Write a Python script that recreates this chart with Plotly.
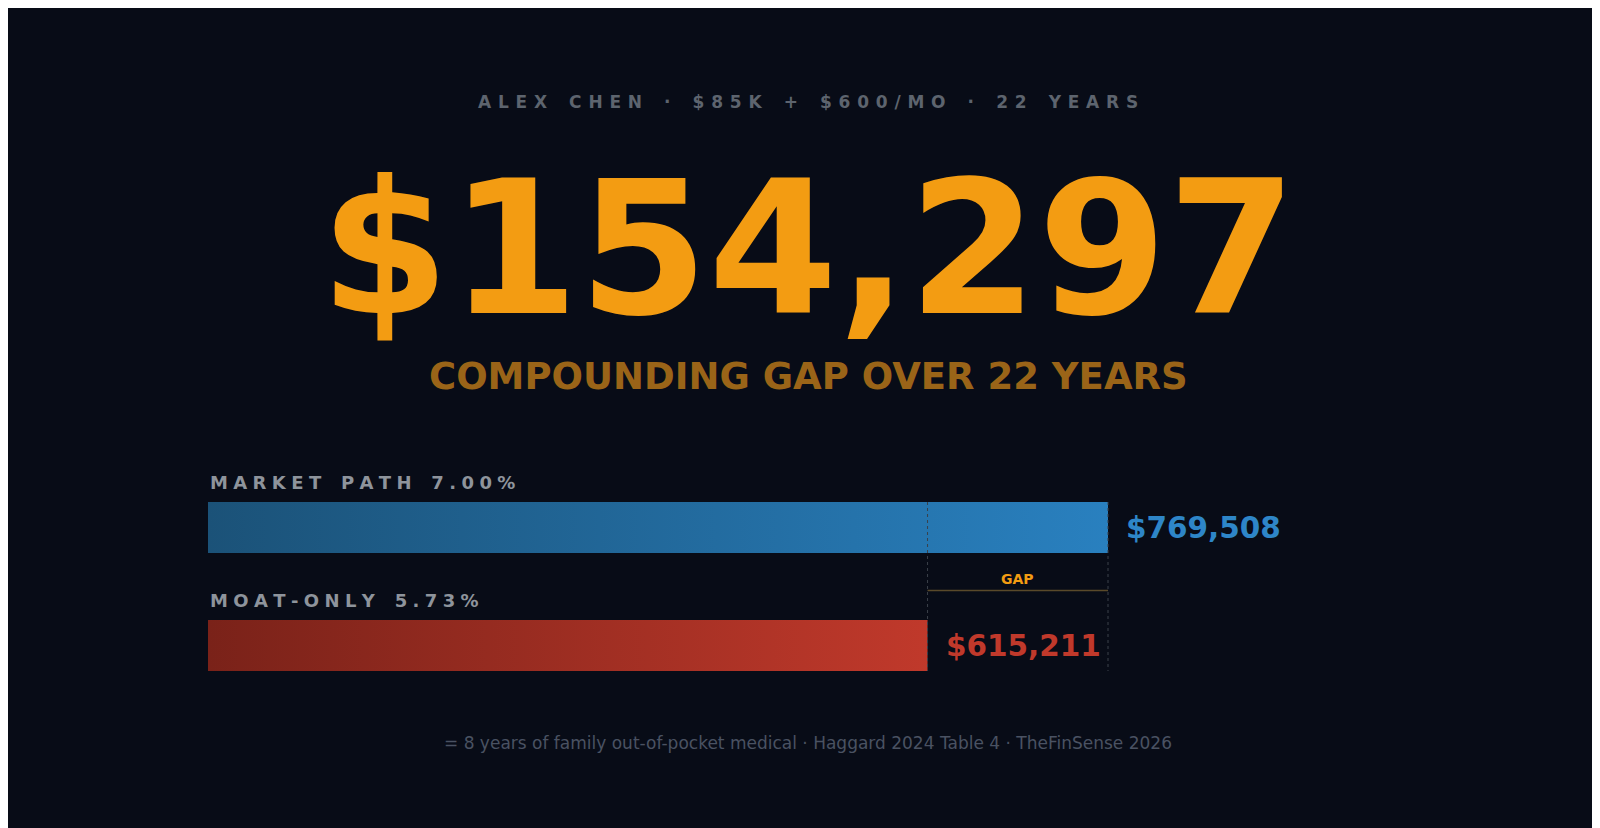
import plotly.graph_objects as go

W, H = 1600, 828

# data
paths = ["MARKET PATH 7.00%", "MOAT-ONLY 5.73%"]
values = [769508, 615211]
gap = values[0] - values[1]
header = "ALEX CHEN · $85K + $600/MO · 22 YEARS"
subtitle = "COMPOUNDING GAP OVER 22 YEARS"
footer = "= 8 years of family out-of-pocket medical · Haggard 2024 Table 4 · TheFinSense 2026"

bar_colors = [["#1b5278", "#2980bf"], ["#7a2219", "#c0392b"]]
value_colors = ["#2e86c8", "#c0392b"]


def spaced(s, sep="\u2009"):
    return sep.join(s.replace(" ", "\u2002"))


# map data to pixels: 0 -> x=200, max -> x=1100
x0_px, x1_px = 200, 1100
per_px = values[0] / (x1_px - x0_px)
xr = [-x0_px * per_px, (W - x0_px) * per_px]

bar_tops = [494, 612]
bar_h = 51

fig = go.Figure()

for i, (name, v) in enumerate(zip(paths, values)):
    top = bar_tops[i]
    fig.add_trace(go.Scatter(
        x=[0, v, v, 0, 0], y=[top, top, top + bar_h, top + bar_h, top],
        mode="lines", line=dict(width=0), fill="toself",
        fillgradient=dict(type="horizontal",
                          colorscale=[[0, bar_colors[i][0]], [1, bar_colors[i][1]]]),
        hoverinfo="skip", showlegend=False))
    fig.add_annotation(x=0, y=top - 20, text=spaced(name, "\u2009\u200a"), showarrow=False,
                       xanchor="left", yanchor="middle",
                       font=dict(size=18, color="#8e949c", family="DejaVu Sans", weight="bold"))
    fig.add_annotation(x=v, y=top + bar_h / 2, text=f"${v:,.0f}", showarrow=False,
                       xanchor="left", xshift=16, yanchor="middle",
                       font=dict(size=29.5, color=value_colors[i], family="DejaVu Sans", weight="bold"))

# gap guides
for v in values:
    fig.add_shape(type="line", x0=v, x1=v, y0=bar_tops[0], y1=bar_tops[1] + bar_h,
                  line=dict(color="#3a404a", width=1, dash="dot"))
gy = (bar_tops[0] + bar_h + bar_tops[1]) / 2 + 4
fig.add_shape(type="line", x0=values[1], x1=values[0], y0=gy, y1=gy,
              line=dict(color="#5a4a2a", width=1.5))
fig.add_annotation(x=values[1] + gap / 2, y=gy - 12, text="GAP", showarrow=False,
                   font=dict(size=14, color="#f39c12", family="DejaVu Sans", weight="bold"))

# headline texts
fig.add_annotation(x=0.5, xref="paper", y=94, text=spaced(header, "\u2009\u200a\u200a"), showarrow=False,
                   font=dict(size=17, color="#5d646e", family="DejaVu Sans", weight="bold"))
fig.add_annotation(x=0.5, xref="paper", y=240, text=f"${gap:,.0f}", showarrow=False,
                   font=dict(size=186, color="#f39c12", family="DejaVu Sans", weight="bold"))
fig.add_annotation(x=0.5, xref="paper", y=368, text=subtitle, showarrow=False,
                   font=dict(size=37, color="#9a6418", family="DejaVu Sans", weight="bold"))
fig.add_annotation(x=0.5, xref="paper", y=735, text=footer, showarrow=False,
                   font=dict(size=17, color="#4a5262", family="DejaVu Sans"))

fig.update_layout(
    width=W, height=H, margin=dict(l=0, r=0, t=0, b=0),
    paper_bgcolor="#080c17", plot_bgcolor="#080c17",
    xaxis=dict(range=xr, visible=False, fixedrange=True),
    yaxis=dict(range=[H, 0], visible=False, fixedrange=True),
    showlegend=False,
)

fig.write_html("out.html")
